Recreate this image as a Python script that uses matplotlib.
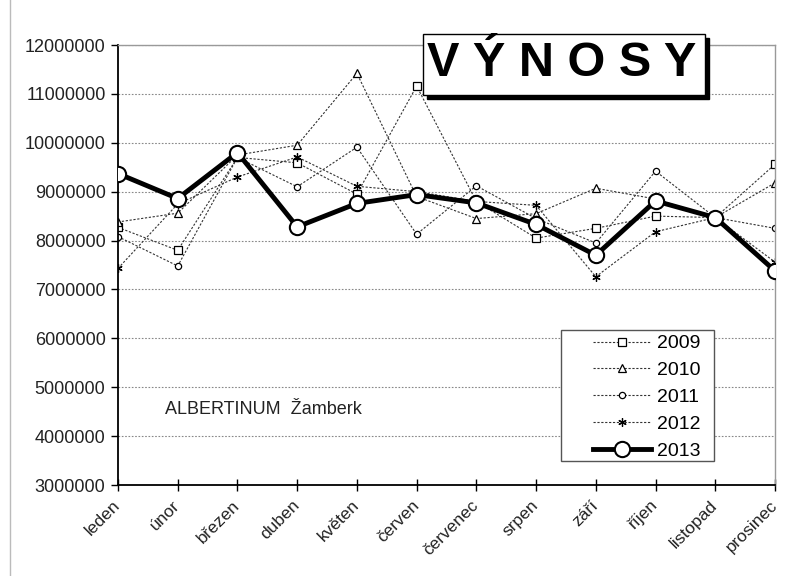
import matplotlib
matplotlib.use("Agg")
import matplotlib.pyplot as plt
from matplotlib.patches import Rectangle
from matplotlib.lines import Line2D
from matplotlib.ticker import FuncFormatter, MultipleLocator
import matplotlib.transforms as mtransforms

plt.rcParams["font.family"] = ["Liberation Sans", "DejaVu Sans"]

months = ["leden", "únor", "březen", "duben", "květen", "červen",
          "červenec", "srpen", "září", "říjen", "listopad", "prosinec"]

v2009 = [8270000, 7800000, 9700000, 9590000, 8950000, 11160000,
         8800000, 8050000, 8250000, 8500000, 8470000, 9560000]
v2010 = [8380000, 8560000, 9750000, 9950000, 11420000, 8900000,
         8450000, 8550000, 9070000, 8850000, 8470000, 9180000]
v2011 = [8080000, 7480000, 9700000, 9100000, 9910000, 8130000,
         9120000, 8450000, 7950000, 9420000, 8470000, 8250000]
v2012 = [7430000, 8750000, 9300000, 9710000, 9110000, 9000000,
         8800000, 8720000, 7260000, 8180000, 8470000, 7560000]
v2013 = [9370000, 8860000, 9800000, 8280000, 8760000, 8940000,
         8770000, 8330000, 7700000, 8810000, 8470000, 7380000]

W, H = 795, 576
fig = plt.figure(figsize=(W / 100, H / 100), dpi=100)
ax = fig.add_axes([118 / W, 1 - 485 / H, (775 - 118) / W, (485 - 45) / H])

x = list(range(len(months)))
thin = dict(color="#333333", linewidth=0.8, linestyle=(0, (2, 1.5)),
            markerfacecolor="white", markeredgecolor="black", markeredgewidth=0.9)
ax.plot(x, v2009, marker="s", markersize=6, label="2009", **thin)
ax.plot(x, v2010, marker="^", markersize=6, label="2010", **thin)
ax.plot(x, v2011, marker="o", markersize=4.5, label="2011", **thin)
ax.plot(x, v2012, marker=(6, 2, 0), markersize=6, label="2012", **thin)
ax.plot(x, v2013, color="black", linewidth=3.5, marker="o", markersize=11,
        markerfacecolor="white", markeredgecolor="black", markeredgewidth=1.5,
        label="2013", zorder=5)

ax.set_xlim(0, len(months) - 1)
ax.set_ylim(3000000, 12000000)
ax.yaxis.set_major_locator(MultipleLocator(1000000))
ax.yaxis.set_major_formatter(FuncFormatter(lambda v, p: f"{int(v)}"))
ax.set_xticks(x)
ax.set_xticklabels(months, rotation=45, ha="right", va="center",
                   rotation_mode="anchor", fontsize=12.5, color="#222222")
shift = mtransforms.ScaledTranslation(5 / 100, 0, fig.dpi_scale_trans)
for lab in ax.get_xticklabels():
    lab.set_transform(lab.get_transform() + shift)
ax.tick_params(axis="x", direction="inout", length=8, width=1, pad=9)
ax.tick_params(axis="y", direction="out", length=5, width=1, labelsize=13,
               labelcolor="#222222", pad=4)

ax.grid(axis="y", color="#888888", linestyle=(0, (1.5, 1.5)), linewidth=0.8)
ax.set_axisbelow(True)
for side in ("left", "bottom"):
    ax.spines[side].set_color("black")
    ax.spines[side].set_linewidth(1.3)
for side in ("top", "right"):
    ax.spines[side].set_color("#999999")
    ax.spines[side].set_linewidth(1)

ax.text(165 / W, 1 - 409 / H, "ALBERTINUM  Žamberk", transform=fig.transFigure,
        fontsize=13, color="#222222", va="center", ha="left")

# legend, frame drawn separately
frame = Rectangle((561 / W, 1 - 461 / H), (714 - 561) / W, (461 - 330) / H,
                  transform=fig.transFigure, facecolor="white",
                  edgecolor="#555555", linewidth=1, zorder=6, clip_on=False)
ax.add_artist(frame)
leg = ax.legend(loc="upper left", bbox_to_anchor=(583 / W, 1 - 325 / H),
                bbox_transform=fig.transFigure, frameon=False, borderpad=0,
                handlelength=3.0, handletextpad=0.3, labelspacing=0.48,
                fontsize=14)
leg.set_zorder(7)

# title box with shadow
fig.add_artist(Rectangle((427 / W, 1 - 99 / H), (705 - 423) / W, (95 - 34) / H,
                         transform=fig.transFigure, facecolor="black",
                         edgecolor="black", zorder=8))
fig.add_artist(Rectangle((423 / W, 1 - 95 / H), (705 - 423) / W, (95 - 34) / H,
                         transform=fig.transFigure, facecolor="white",
                         edgecolor="black", linewidth=1, zorder=9))
fig.text(562 / W, 1 - 64 / H, "V Ý N O S Y", fontsize=35, fontweight="bold",
         ha="center", va="center", zorder=10)

fig.add_artist(Line2D([10 / W, 10 / W], [0, 1], transform=fig.transFigure,
                      color="#bbbbbb", linewidth=1))

fig.savefig("out.png", dpi=100)
